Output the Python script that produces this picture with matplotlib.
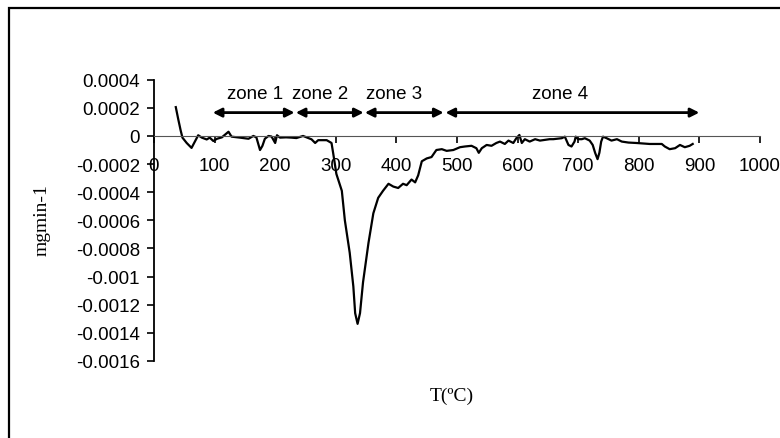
import numpy as np
import matplotlib.pyplot as plt
from matplotlib.patches import Rectangle

####### DATA ######

# DTG curve (T in ºC, rate in mg min-1)
Temp = [36, 40, 44, 47, 54, 62, 68, 73, 79, 84, 87, 92, 98, 104, 112, 123, 128, 142, 156, 164,
        169, 175, 179, 183, 189, 194, 200, 203, 208, 218, 227, 235, 246, 260, 266, 271, 285, 293,
        296, 301, 310, 315, 323, 329, 332, 336, 340, 345, 354, 362, 370, 378, 387, 395, 403, 411,
        417, 425, 431, 436, 442, 450, 458, 466, 475, 483, 494, 505, 513, 524, 532, 536, 541, 549,
        557, 565, 571, 579, 585, 593, 598, 603, 607, 612, 620, 629, 637, 653, 659, 673, 678, 684,
        689, 694, 696, 700, 706, 711, 719, 724, 728, 732, 735, 738, 741, 747, 755, 764, 772, 783,
        796, 818, 838, 843, 851, 860, 868, 876, 884, 889]
Rate = [0.000205, 0.00012, 0.00004, -0.000012, -0.00005, -0.000085, -0.000036, 0.000005,
        -0.000012, -0.00002, -0.000025, -0.000012, -0.000036, -0.00002, -0.00001, 0.00003,
        -0.000005, -0.000012, -0.00002, 0.0, -0.00001, -0.0001, -0.00007, -0.00002, 0.0,
        -0.000004, -0.00005, 0.000005, -0.000012, -0.00001, -0.000012, -0.000015, 0.0, -0.000024,
        -0.00005, -0.00003, -0.00003, -0.00005, -0.00013, -0.00027, -0.00039, -0.00060, -0.00083,
        -0.00107, -0.00126, -0.001336, -0.00126, -0.00104, -0.00076, -0.00055, -0.00044, -0.00039,
        -0.00034, -0.00036, -0.00037, -0.00034, -0.00035, -0.00031, -0.00033, -0.00028, -0.00018,
        -0.00016, -0.00015, -0.0001, -0.000094, -0.000106, -0.0001, -0.00008, -0.000075, -0.00007,
        -0.000087, -0.00012, -0.000087, -0.000064, -0.00007, -0.00005, -0.00004, -0.000057,
        -0.000033, -0.00005, -0.000016, 0.000007, -0.00005, -0.000023, -0.00004, -0.000023,
        -0.000033, -0.000023, -0.000023, -0.000016, -0.000005, -0.000064, -0.000075, -0.00004,
        -0.000005, -0.000023, -0.000023, -0.000016, -0.000033, -0.000064, -0.00012, -0.000165,
        -0.00012, -0.00004, -0.000005, -0.000016, -0.000033, -0.000023, -0.00004, -0.000047,
        -0.00005, -0.000057, -0.000057, -0.000075, -0.000094, -0.000087, -0.000064, -0.00008,
        -0.00007, -0.000057]

# Zones (start, end in ºC) and their names
Zone_Names = ['zone 1', 'zone 2', 'zone 3', 'zone 4']
Zone_Start = [97, 234, 348, 481]
Zone_End = [232, 346, 478, 900]
Zone_Label_X = [166, 275, 396, 670]

X_Ticks = [0, 100, 200, 300, 400, 500, 600, 700, 800, 900, 1000]
Y_Ticks = [0.0004, 0.0002, 0, -0.0002, -0.0004, -0.0006, -0.0008, -0.001, -0.0012, -0.0014, -0.0016]
Y_Tick_Labels = ['0.0004', '0.0002', '0', '-0.0002', '-0.0004', '-0.0006', '-0.0008',
                 '-0.001', '-0.0012', '-0.0014', '-0.0016']

####### PLOT #######

plt.rcParams['font.family'] = 'Liberation Sans'

fig = plt.figure(figsize=(7.8, 4.39), dpi=100)
ax = fig.add_axes([0.1974, 0.1754, 0.7769, 0.6408])

ax.plot(Temp, Rate, color='black', linewidth=1.6)

ax.set_xlim(0, 1000)
ax.set_ylim(-0.0016, 0.0004)

# x axis crossing at zero
ax.spines['bottom'].set_position(('data', 0))
ax.spines['top'].set_visible(False)
ax.spines['right'].set_visible(False)
ax.spines['bottom'].set_color('#555555')
ax.spines['left'].set_linewidth(1.3)

ax.set_xticks(X_Ticks)
ax.set_yticks(Y_Ticks)
ax.set_yticklabels(Y_Tick_Labels)
ax.tick_params(axis='x', direction='out', length=5, width=1.2, pad=10, labelsize=13.5)
ax.tick_params(axis='y', direction='out', length=5, width=1.2, pad=5, labelsize=13.5)

# zone arrows
for name, x0, x1, xl in zip(Zone_Names, Zone_Start, Zone_End, Zone_Label_X):
    ax.annotate('', xy=(x1, 0.000166), xytext=(x0, 0.000166),
                arrowprops=dict(arrowstyle='<|-|>', color='black', lw=2,
                                shrinkA=0, shrinkB=0, mutation_scale=13))
    ax.text(xl, 0.000305, name, ha='center', va='center', fontsize=13.5)

# axis titles (serif)
fig.text(42/780, 1-220/439, 'mgmin-1', rotation=90, ha='center', va='center',
         fontsize=14, family='Liberation Serif')
fig.text(452/780, 1-396/439, 'T(ºC)', ha='center', va='center',
         fontsize=14, family='Liberation Serif')

# outer frame (only left and top edges show)
fig.patches.append(Rectangle((8.5/780, -0.1), 1.2, 1.1 - 9/439, transform=fig.transFigure,
                             fill=False, edgecolor='black', linewidth=1.6))

fig.savefig('out.png', dpi=100)
